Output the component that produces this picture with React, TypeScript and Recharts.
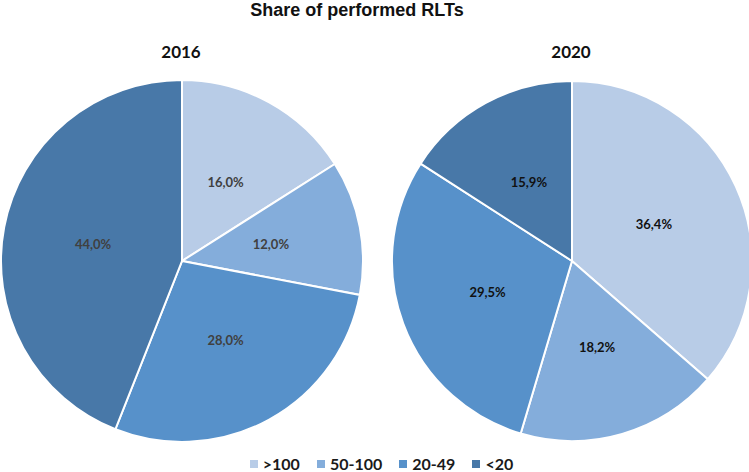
import { PieChart, Pie, Cell, Legend } from 'recharts';

const categories = ['>100', '50-100', '20-49', '<20'];
const share2016 = [16.0, 12.0, 28.0, 44.0];
const share2020 = [36.4, 18.2, 29.5, 15.9];
const colors = ['#B8CCE7', '#84ADDB', '#5791CA', '#4878A8'];

const data2016 = categories.map((name, i) => ({ name, value: share2016[i] }));
const data2020 = categories.map((name, i) => ({ name, value: share2020[i] }));

const RAD = Math.PI / 180;
const calibri = 'Lato, "Open Sans", sans-serif';

function makeLabel(fill: string) {
  return (props: any) => {
    const { cx, cy, midAngle, outerRadius, value } = props;
    const r = outerRadius * 0.5;
    const x = cx + r * Math.cos(-midAngle * RAD);
    const y = cy + r * Math.sin(-midAngle * RAD);
    return (
      <text
        x={x}
        y={y}
        fill={fill}
        textAnchor="middle"
        dominantBaseline="central"
        fontFamily={calibri}
        fontWeight="bold"
        fontSize={13}
      >
        {value.toFixed(1).replace('.', ',') + '%'}
      </text>
    );
  };
}

function LegendBox() {
  return (
    <div
      style={{
        display: 'flex',
        justifyContent: 'center',
        gap: 17,
        fontFamily: calibri,
        fontWeight: 'bold',
        fontSize: 16,
        lineHeight: '16px',
        height: 16,
        color: '#1a1a1a',
        marginLeft: 14,
      }}
    >
      {categories.map((c, i) => (
        <span key={c} style={{ display: 'flex', alignItems: 'center' }}>
          <span style={{ width: 8, height: 8, background: colors[i], marginRight: 5, display: 'inline-block' }} />
          {c}
        </span>
      ))}
    </div>
  );
}

export default function App() {
  return (
    <div style={{ position: 'absolute', left: 0, top: 0, width: 749, height: 472, background: '#fff' }}>
      <div
        style={{
          position: 'absolute',
          top: 0,
          left: 0,
          width: 714,
          textAlign: 'center',
          fontFamily: '"Liberation Sans", Arial, sans-serif',
          fontWeight: 'bold',
          fontSize: 18,
          color: '#111',
        }}
      >
        Share of performed RLTs
      </div>
      <div style={{ position: 'absolute', top: 41, left: 131, width: 100, textAlign: 'center', fontFamily: calibri, fontWeight: 'bold', fontSize: 17, color: '#111' }}>
        2016
      </div>
      <div style={{ position: 'absolute', top: 41, left: 521, width: 100, textAlign: 'center', fontFamily: calibri, fontWeight: 'bold', fontSize: 17, color: '#111' }}>
        2020
      </div>
      <PieChart
        width={749}
        height={472}
        margin={{ top: 0, right: 0, bottom: 0, left: 0 }}
        style={{ position: 'absolute', left: 0, top: 0 }}
      >
        <Pie
          data={data2016}
          dataKey="value"
          cx={182}
          cy={261}
          outerRadius={181}
          startAngle={90}
          endAngle={-270}
          stroke="#fff"
          strokeWidth={2}
          labelLine={false}
          label={makeLabel('#404040')}
          isAnimationActive={false}
        >
          {data2016.map((d, i) => (
            <Cell key={d.name} fill={colors[i]} />
          ))}
        </Pie>
        <Pie
          data={data2020}
          dataKey="value"
          cx={572}
          cy={261}
          outerRadius={180}
          startAngle={90}
          endAngle={-270}
          stroke="#fff"
          strokeWidth={2}
          labelLine={false}
          label={makeLabel('#111')}
          isAnimationActive={false}
        >
          {data2020.map((d, i) => (
            <Cell key={d.name} fill={colors[i]} />
          ))}
        </Pie>
        <Legend
          content={() => <LegendBox />}
          wrapperStyle={{ position: 'absolute', top: 456, left: 0, width: 749, height: 16 }}
        />
      </PieChart>
    </div>
  );
}
